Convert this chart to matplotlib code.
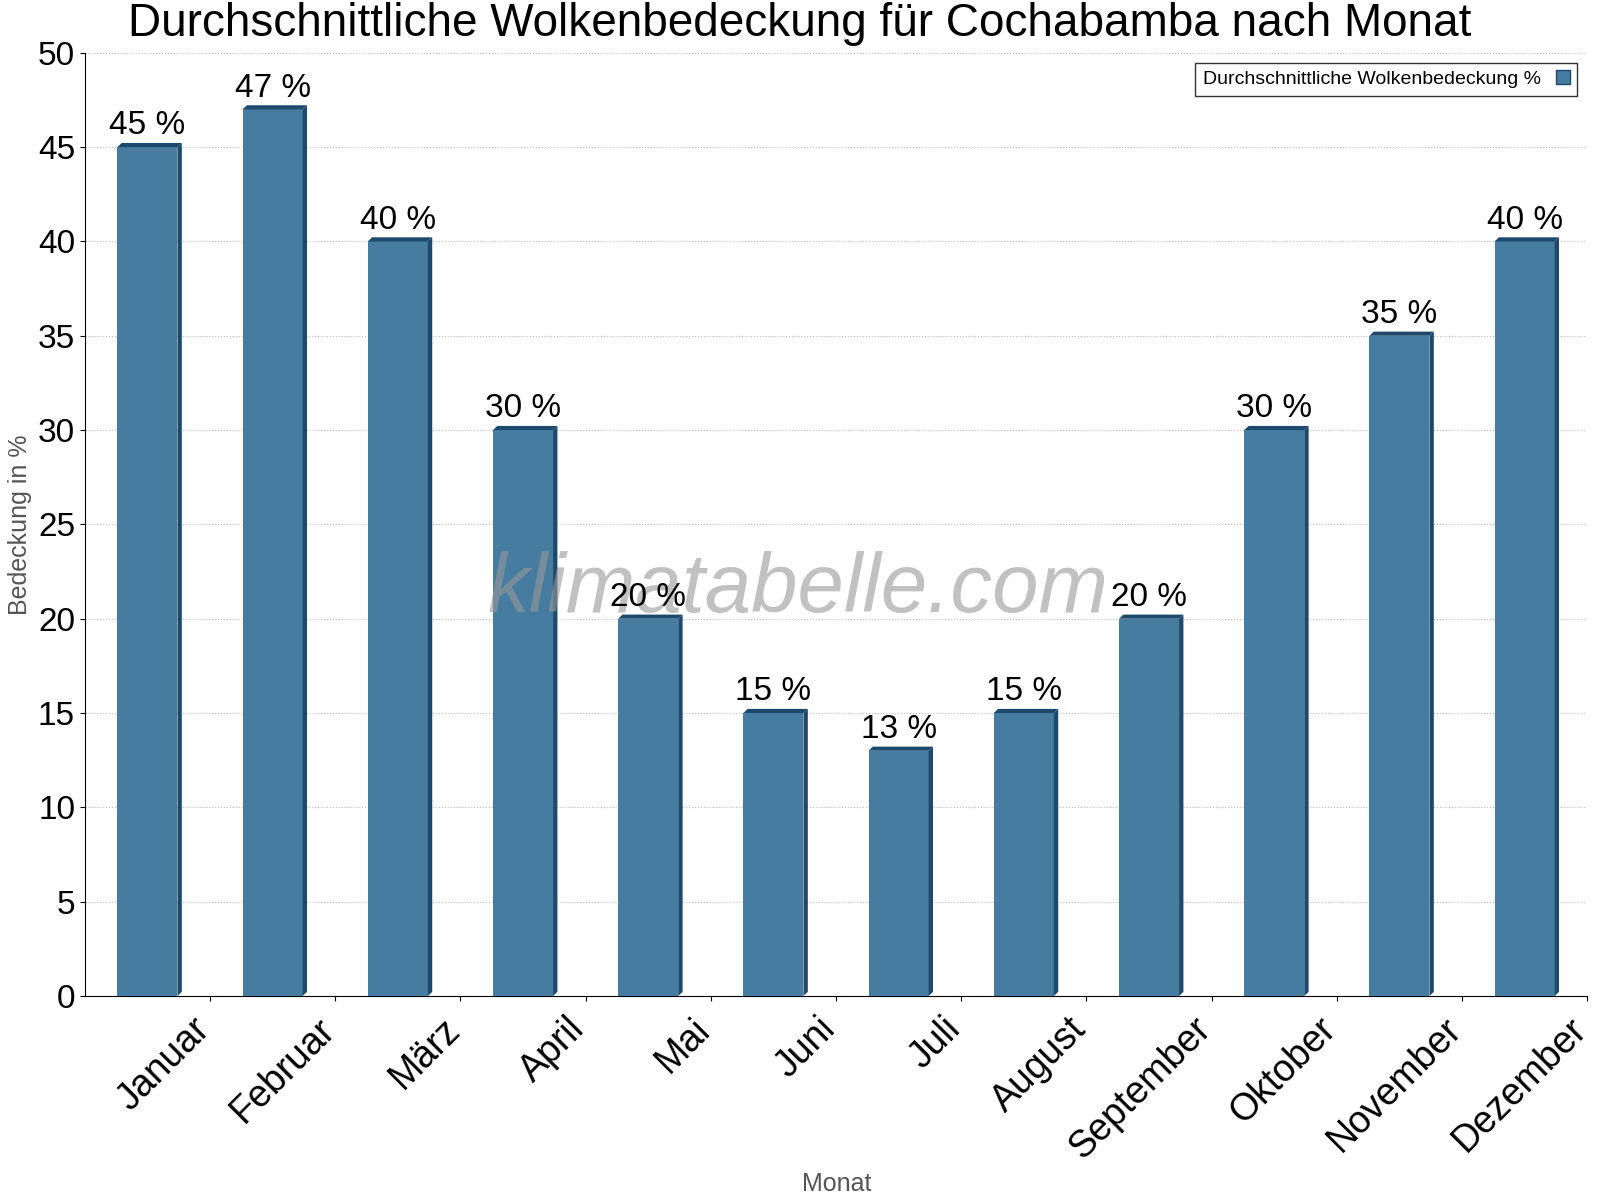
import matplotlib
matplotlib.use("Agg")
import matplotlib.pyplot as plt
from matplotlib.patches import Polygon, Patch

plt.rcParams["font.family"] = "Liberation Sans"

months = ["Januar","Februar","März","April","Mai","Juni","Juli","August","September","Oktober","November","Dezember"]
values = [45,47,40,30,20,15,13,15,20,30,35,40]

fig = plt.figure(figsize=(16,12), dpi=100)
ax = fig.add_axes([0.053,0.17,0.939,0.786])
front = "#467c9f"; dark = "#1d4a6c"
w = 0.48; dx = 0.035; dy = 0.22
for i, v in enumerate(values):
    x0 = i + 0.5 - w/2
    ax.add_patch(plt.Rectangle((x0,0), w, v, facecolor=front, edgecolor="none", zorder=3))
    ax.add_patch(Polygon([(x0+w,0),(x0+w+dx,dy),(x0+w+dx,v+dy),(x0+w,v)], closed=True, facecolor=dark, edgecolor="none", zorder=3))
    ax.add_patch(Polygon([(x0,v),(x0+dx,v+dy),(x0+w+dx,v+dy),(x0+w,v)], closed=True, facecolor=dark, edgecolor="none", zorder=3))
    ax.text(i+0.5, v+0.3, f"{v} %", ha="center", va="bottom", fontsize=24, zorder=6)
ax.set_xlim(0,12); ax.set_ylim(0,50)
ax.set_yticks(range(0,51,5))
ax.tick_params(axis="y", labelsize=24)
ax.set_xticks(range(1,13)); ax.set_xticklabels([])
for i, m in enumerate(months):
    ax.text(i+0.85, -0.8, m, rotation=45, ha="right", va="top", rotation_mode="anchor", fontsize=27)
ax.grid(axis="y", linestyle=":", color="#bbbbbb", zorder=0)
for s in ["top","right"]:
    ax.spines[s].set_visible(False)
ax.set_ylabel("Bedeckung in %", fontsize=18, color="#555555")
fig.text(0.523, 0.003, "Monat", ha="center", va="bottom", fontsize=18, color="#555555")
fig.suptitle("Durchschnittliche Wolkenbedeckung für Cochabamba nach Monat", fontsize=33, y=0.998)
ax.text(0.475, 0.43, "klimatabelle.com", transform=ax.transAxes, ha="center", va="center", fontsize=60, style="italic", color="#999999", alpha=0.6, zorder=5)
ax.legend(handles=[Patch(facecolor=front, edgecolor=dark)], labels=["Durchschnittliche Wolkenbedeckung %"], loc="upper right", fontsize=14, frameon=True, fancybox=False, edgecolor="black", markerfirst=False, handlelength=0.7)
fig.savefig("out.png")
